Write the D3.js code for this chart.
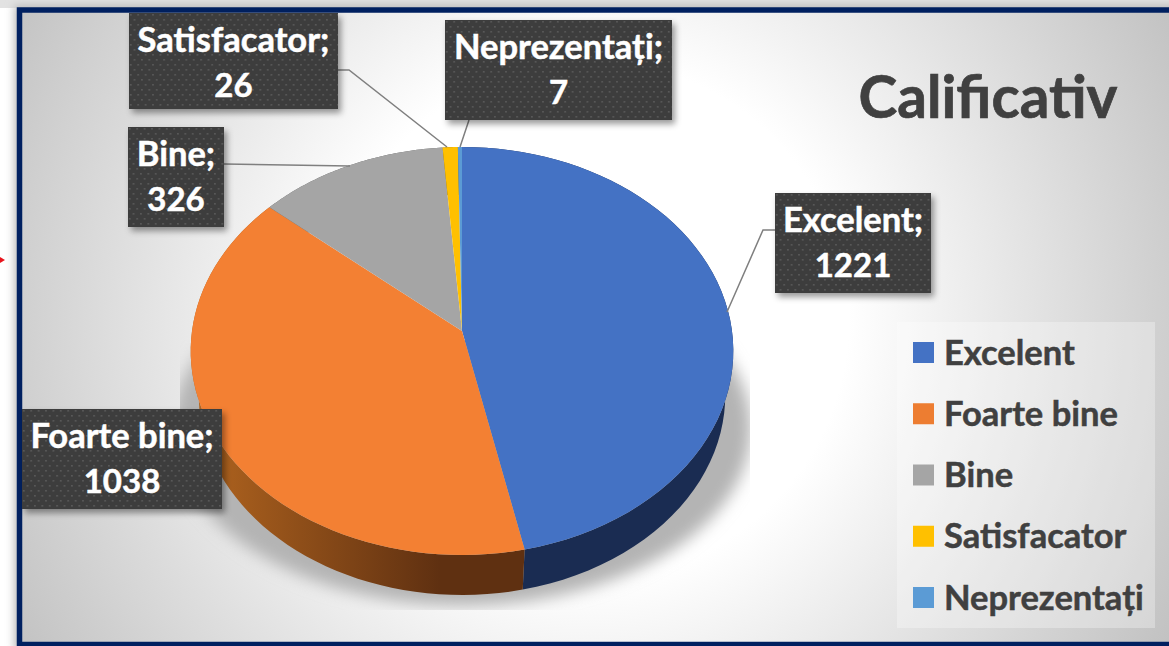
<!DOCTYPE html>
<html lang="ro">
<head>
<meta charset="utf-8">
<title>Calificativ</title>
<script src="https://d3js.org/d3.v7.min.js"></script>
<style>
    html, body { margin: 0; padding: 0; background: #fff; overflow: hidden; }
    svg { display: block; font-family: Lato, "Open Sans", sans-serif; font-weight: 700; }
</style>
</head>
<body>
<div id="chart"></div>
<script>
    // Data
    const categories = ["Excelent", "Foarte bine", "Bine", "Satisfacator", "Neprezentați"];
    const values = [1221, 1038, 326, 26, 7];
    const chartTitle = "Calificativ";

    const width = 1169, height = 646;
    const topColors = ["#4472c4", "#f38033", "#a5a5a5", "#ffc000", "#5b9bd5"];
    const legendColors = ["#4472c4", "#ed7d31", "#a5a5a5", "#ffc000", "#5b9bd5"];
    const sideColors = ["#1a2c52", "url(#orangeSide)", "#5f5f5f", "#8a6800", "#2f5d85"];

    // label boxes, same order as categories
    const boxes = [
        { x: 775, y: 193, w: 156, h: 100 },
        { x: 22, y: 409, w: 200, h: 100 },
        { x: 128, y: 127, w: 96, h: 100 },
        { x: 129, y: 13, w: 209, h: 96 },
        { x: 445, y: 20, w: 227, h: 100 }
    ];
    const leaders = [
        [[775, 230], [763, 230], [727, 312]],
        null,
        [[224, 164], [350, 166]],
        [[338, 70], [349, 70], [447, 147]],
        [[469, 120], [460, 147]]
    ];

    const svg = d3.select("#chart").append("svg")
        .attr("width", width)
        .attr("height", height);

    const defs = svg.append("defs");

    const bg = defs.append("radialGradient")
        .attr("id", "bg")
        .attr("gradientUnits", "userSpaceOnUse")
        .attr("cx", 590).attr("cy", 320).attr("r", 680);
    bg.append("stop").attr("offset", "0.38").attr("stop-color", "#ffffff");
    bg.append("stop").attr("offset", "1").attr("stop-color", "#bfbfbf");

    const orangeSide = defs.append("linearGradient")
        .attr("id", "orangeSide")
        .attr("gradientUnits", "userSpaceOnUse")
        .attr("x1", 195).attr("y1", 0).attr("x2", 440).attr("y2", 0);
    orangeSide.append("stop").attr("offset", "0").attr("stop-color", "#b2651f");
    orangeSide.append("stop").attr("offset", "1").attr("stop-color", "#5f3011");

    const dots = defs.append("pattern")
        .attr("id", "dots")
        .attr("patternUnits", "userSpaceOnUse")
        .attr("width", 7.4).attr("height", 10);
    dots.append("rect").attr("width", 7.4).attr("height", 10).attr("fill", "#3e3e3e");
    dots.append("rect").attr("x", 1).attr("y", 1).attr("width", 1.6).attr("height", 1.6).attr("fill", "#5a5a5a");
    dots.append("rect").attr("x", 4.7).attr("y", 6).attr("width", 1.6).attr("height", 1.6).attr("fill", "#5a5a5a");

    const blur = defs.append("filter")
        .attr("id", "pieShadow")
        .attr("filterUnits", "userSpaceOnUse")
        .attr("x", 180).attr("y", 340).attr("width", 570).attr("height", 270);
    blur.append("feGaussianBlur").attr("stdDeviation", 8);

    const boxShadow = defs.append("filter")
        .attr("id", "boxShadow")
        .attr("x", "-15%").attr("y", "-15%").attr("width", "130%").attr("height", "130%");
    boxShadow.append("feDropShadow")
        .attr("dx", 3).attr("dy", 4).attr("stdDeviation", 3)
        .attr("flood-color", "#000").attr("flood-opacity", 0.4);

    const glow = defs.append("filter")
        .attr("id", "frameGlow")
        .attr("x", "-5%").attr("y", "-5%").attr("width", "110%").attr("height", "110%");
    glow.append("feGaussianBlur").attr("stdDeviation", 4);

    // page outside the frame
    svg.append("rect").attr("width", width).attr("height", 8).attr("fill", "#e2e2e2");
    svg.append("rect").attr("x", 14).attr("y", 5).attr("width", width).attr("height", height)
        .attr("fill", "#bbbbbb").attr("filter", "url(#frameGlow)");

    // small red arrow tip at the left edge
    svg.append("path")
        .attr("d", d3.line()([[0, 257], [5, 260], [0, 263]]) + "Z")
        .attr("fill", "#e8141c");

    // frame and background
    svg.append("rect")
        .attr("x", 19.5).attr("y", 10).attr("width", width + 20).attr("height", 634.5)
        .attr("fill", "url(#bg)")
        .attr("stroke", "#002060").attr("stroke-width", 5.5);

    // Pie, projected with perspective: apex sits above the middle of the outline
    const pie = d3.pie().value(d => d).sort(null);
    const arcs = pie(values);
    const persp = 0.098;

    function project(angle, rx, a, b) {
        const u = Math.sin(angle), v = Math.cos(angle), w = 1 + persp * v;
        return [462 + rx * u / w, (a * v + b) / w];
    }
    const topFace = angle => project(angle, 270, -169.6, 331);
    const bottomFace = angle => project(angle, 262, -161.3, 375.4);
    const shadowFace = angle => project(angle, 288, -136, 410.5);

    function angleSteps(s, e) {
        return d3.range(0, 61).map(i => s + (e - s) * i / 60);
    }

    const line = d3.line();

    // shadow under the pie
    svg.append("path")
        .attr("d", line(angleSteps(0, 2 * Math.PI).map(shadowFace)) + "Z")
        .attr("fill", "#b4b4b4")
        .attr("filter", "url(#pieShadow)");

    // side walls
    svg.append("g").selectAll("path")
        .data(arcs)
        .join("path")
        .attr("d", d => {
            const steps = angleSteps(d.startAngle, d.endAngle);
            return line(steps.map(topFace).concat(steps.slice().reverse().map(bottomFace))) + "Z";
        })
        .attr("fill", (d, i) => sideColors[i]);

    // top faces
    svg.append("g").selectAll("path")
        .data(arcs)
        .join("path")
        .attr("d", d => line([[462, 331]].concat(angleSteps(d.startAngle, d.endAngle).map(topFace))) + "Z")
        .attr("fill", (d, i) => topColors[i]);

    // leader lines
    svg.append("g").selectAll("path")
        .data(leaders.filter(d => d))
        .join("path")
        .attr("d", d => line(d))
        .attr("fill", "none")
        .attr("stroke", "#7f7f7f")
        .attr("stroke-width", 1.5);

    // data labels
    const labels = svg.append("g").selectAll("g")
        .data(categories)
        .join("g")
        .attr("transform", (d, i) => `translate(${boxes[i].x},${boxes[i].y})`);

    labels.append("rect")
        .attr("width", (d, i) => boxes[i].w)
        .attr("height", (d, i) => boxes[i].h)
        .attr("fill", "url(#dots)")
        .attr("filter", "url(#boxShadow)");

    labels.append("text")
        .attr("x", (d, i) => boxes[i].w / 2)
        .attr("y", 39)
        .attr("text-anchor", "middle")
        .attr("font-size", 34.5)
        .attr("fill", "#ffffff")
        .attr("stroke", "#ffffff").attr("stroke-width", 0.5)
        .text(d => d + ";");

    labels.append("text")
        .attr("x", (d, i) => boxes[i].w / 2)
        .attr("y", 84)
        .attr("text-anchor", "middle")
        .attr("font-size", 33)
        .attr("fill", "#ffffff")
        .attr("stroke", "#ffffff").attr("stroke-width", 0.5)
        .text((d, i) => values[i]);

    // title
    svg.append("text")
        .attr("x", 988).attr("y", 118)
        .attr("text-anchor", "middle")
        .attr("font-size", 58.5)
        .attr("fill", "#404040")
        .attr("stroke", "#404040").attr("stroke-width", 0.7)
        .text(chartTitle);

    // legend
    svg.append("rect")
        .attr("x", 897).attr("y", 322).attr("width", 258).attr("height", 306)
        .attr("fill", "#ffffff").attr("opacity", 0.3);

    const legendY = d3.scalePoint()
        .domain(categories)
        .range([352.5, 597.5]);

    const legend = svg.append("g").selectAll("g")
        .data(categories)
        .join("g")
        .attr("transform", d => `translate(913,${legendY(d)})`);

    legend.append("rect")
        .attr("y", -10.5)
        .attr("width", 21).attr("height", 21)
        .attr("fill", (d, i) => legendColors[i]);

    legend.append("text")
        .attr("x", 31).attr("y", 12)
        .attr("font-size", 34.5)
        .attr("fill", "#404040")
        .attr("stroke", "#404040").attr("stroke-width", 0.5)
        .text(d => d);
</script>
</body>
</html>
